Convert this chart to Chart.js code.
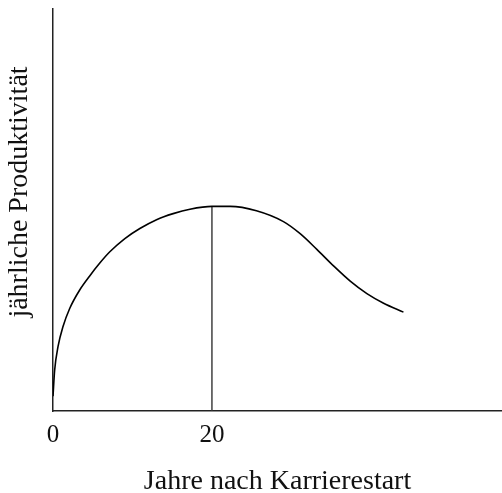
<!DOCTYPE html>
<html>
<head>
<meta charset="utf-8">
<script src="https://cdn.jsdelivr.net/npm/chart.js@4"></script>
<style>
  html, body { margin: 0; padding: 0; background: #fff; }
  canvas { display: block; }
</style>
</head>
<body>
<canvas id="productivityChart" width="502" height="493"></canvas>
<script>
// values
const years = [0, 0.21, 0.63, 1.26, 2.1, 3.36, 4.62, 5.89, 7.15, 9.04, 10.93, 13.03, 15.12, 17.23, 20, 22.3, 25.6, 29, 31.1, 33.2, 35.3, 37.4, 39.5, 41.6, 44.1];
const productivity = [3.7, 10.2, 16, 21, 25.5, 30.1, 33.6, 36.8, 39.6, 42.9, 45.4, 47.6, 49.1, 50.2, 50.9, 50.9, 49.8, 47.1, 44.1, 40.2, 36.1, 32.3, 29.2, 26.8, 24.6];
const peakYear = 20;
const peakValue = 50.9;
const xTicks = [0, 20];
const xTitle = 'Jahre nach Karrierestart';
const yTitle = 'jährliche Produktivität';

const serif = '"Liberation Serif", "DejaVu Serif", serif';

const yTitlePlugin = {
  id: 'yTitle',
  afterDraw(chart) {
    const { ctx, chartArea } = chart;
    ctx.save();
    ctx.translate(20, (chartArea.top + chartArea.bottom) / 2 - 18);
    ctx.rotate(-Math.PI / 2);
    ctx.font = '28px ' + serif;
    ctx.fillStyle = '#111';
    ctx.textAlign = 'center';
    ctx.textBaseline = 'middle';
    ctx.fillText(yTitle, 0, 0);
    ctx.restore();
  }
};

const canvas = document.getElementById('productivityChart');
new Chart(canvas, {
  type: 'line',
  data: {
    datasets: [
      {
        data: years.map((x, i) => ({ x, y: productivity[i] })),
        borderColor: '#000',
        borderWidth: 1.6,
        pointRadius: 0,
        cubicInterpolationMode: 'monotone',
        fill: false
      },
      {
        data: [{ x: peakYear, y: 0 }, { x: peakYear, y: peakValue }],
        borderColor: '#333',
        borderWidth: 1.4,
        pointRadius: 0,
        fill: false
      }
    ]
  },
  options: {
    responsive: false,
    animation: false,
    layout: { padding: { top: 9, right: 0, left: 0, bottom: 0 } },
    plugins: {
      legend: { display: false },
      tooltip: { enabled: false }
    },
    scales: {
      x: {
        type: 'linear',
        min: 0,
        max: 56.5,
        afterFit: (scale) => { scale.height = 82; },
        afterBuildTicks: (scale) => { scale.ticks = xTicks.map((value) => ({ value })); },
        grid: { display: false, drawTicks: false },
        border: { display: true, color: '#222', width: 1.5 },
        ticks: {
          autoSkip: false,
          maxRotation: 0,
          padding: 9,
          color: '#111',
          font: { family: serif, size: 25 }
        },
        title: {
          display: true,
          text: xTitle,
          color: '#111',
          font: { family: serif, size: 28 },
          padding: { top: 0, bottom: -5 }
        }
      },
      y: {
        min: 0,
        max: 100,
        afterFit: (scale) => { scale.width = 53; },
        grid: { display: false, drawTicks: false },
        border: { display: true, color: '#222', width: 1.5 },
        ticks: { display: false }
      }
    }
  },
  plugins: [yTitlePlugin]
});
</script>
</body>
</html>
